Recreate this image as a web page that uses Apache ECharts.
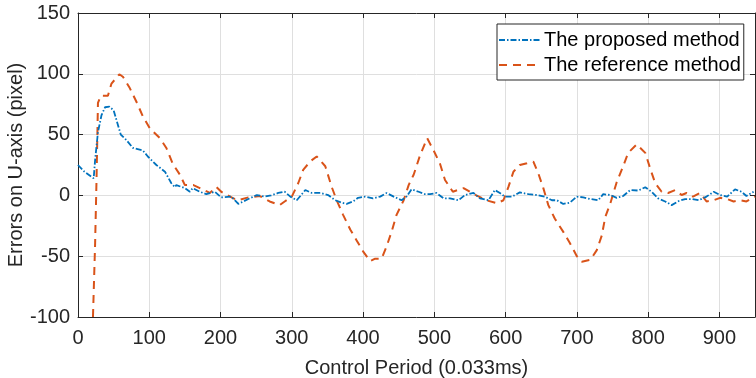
<!DOCTYPE html>
<html>
<head>
<meta charset="utf-8">
<script src="https://cdn.jsdelivr.net/npm/echarts@6/dist/echarts.min.js"></script>
<style>
  html, body { margin: 0; padding: 0; background: #fff; }
  #chart { width: 756px; height: 378px; }
</style>
</head>
<body>
<div id="chart"></div>
<script>
// x ticks 0..900 every 100, y ticks -100..150 every 50
var xTicks = [0, 100, 200, 300, 400, 500, 600, 700, 800, 900];
var yTicks = [-100, -50, 0, 50, 100, 150];

// The proposed method (blue, dash-dot)
var blueX = [0, 9, 22, 24, 28, 33, 38, 44, 50, 54, 60, 68, 77, 91, 98, 110, 122, 131, 136, 138, 150, 157, 161, 171, 180, 192, 201, 215, 225, 239, 251, 262, 271, 281, 290, 298, 307, 319, 328, 340, 351, 361, 370, 377, 386, 393, 403, 414, 424, 433, 443, 454, 461, 468, 478, 487, 494, 503, 513, 522, 534, 543, 555, 564, 576, 585, 592, 599, 609, 620, 632, 644, 655, 665, 672, 681, 690, 700, 709, 719, 730, 737, 747, 756, 765, 775, 786, 796, 805, 814, 824, 833, 843, 852, 862, 871, 882, 892, 901, 911, 922, 931, 938, 948];
var blueY = [25, 19.5, 14, 29, 52, 66, 72.5, 73, 70, 62, 50, 45.5, 39, 37, 32, 25, 19.5, 10, 6.7, 8.5, 6, 3, 6, 3, 1, 3, -1.6, -1, -7, -3, 0.3, -1, 0, 2, 3, -1, -4, 4.4, 2, 2, 0.3, -4, -6, -7, -5, -2, -1, -2.4, -1, 2, -1, -4, -1, 5, 3, 1, 1, 2, -2.4, -2.4, -4, 0.3, 2, -2.4, -4, 4.4, 2, -1, -1, 2.5, 1, 0.3, -1, -4, -4, -7, -6, -1, -1.6, -3, -4, 1, 0.3, -2, -0.5, 4.4, 4, 6.7, 3, -2.4, -5, -8, -4.6, -3, -3, -4, -1, 3, 0.3, -1, 5, 3, -0.5, 3];

// The reference method (orange, dashed)
var redX = [21, 24, 26, 28, 32, 42, 47, 58, 63, 72, 82, 91, 101, 115, 124, 133, 143, 150, 162, 171, 185, 194, 201, 218, 225, 239, 255, 269, 283, 290, 300, 309, 316, 326, 335, 347, 356, 363, 372, 382, 391, 400, 410, 417, 426, 433, 440, 447, 457, 464, 471, 480, 490, 499, 508, 515, 526, 541, 550, 559, 573, 588, 597, 604, 611, 620, 630, 639, 646, 653, 660, 669, 681, 690, 700, 707, 719, 728, 735, 740, 747, 756, 765, 772, 784, 796, 803, 810, 819, 828, 838, 847, 854, 863, 873, 882, 892, 901, 911, 920, 929, 938, 950];
var redY = [-100, -40, 13, 76, 82, 82, 92, 99.6, 97.6, 89, 77, 65, 55, 47, 39, 26, 17, 8.5, 8.5, 6, 2, 7, 3, -2.4, -4, -1.6, -0.5, -5, -8, -5, -1, 10, 21, 28, 32, 24, 7, -4, -16, -28, -37, -46, -54, -52, -52, -42, -30, -16, -4, 8.5, 17, 33, 47, 37, 26, 12.7, 3, 6, 3, 0, -4, -6.5, -4, 7, 19.5, 25, 26.4, 27.7, 18, 6, -8, -19, -30, -39, -50, -54.5, -53, -45, -33, -17.5, -6.5, 11, 24, 35, 42, 35, 22, 10, 3, 2, 4.4, 0.3, 2, -1, 2, -5, -4, -2, -3, -5, -4, -5, -1];

function pairs(xs, ys) {
  return xs.map(function (x, i) { return [x, ys[i]]; });
}

var textColor = '#262626';
var font = 'Liberation Sans, Arial, sans-serif';

var chart = echarts.init(document.getElementById('chart'));
chart.setOption({
  animation: false,
  backgroundColor: '#fff',
  textStyle: { fontFamily: font, color: textColor },
  grid: { left: 78, right: 1, top: 13, bottom: 61, containLabel: false, outerBoundsMode: 'none' },
  legend: {
    orient: 'vertical',
    left: 497,
    top: 24,
    padding: [6, 3, 5, 1],
    itemGap: 5,
    itemWidth: 41,
    itemHeight: 20,
    backgroundColor: '#fff',
    borderColor: textColor,
    borderWidth: 1,
    itemStyle: { opacity: 0 },
    textStyle: { fontFamily: font, fontSize: 20, color: '#000', padding: [0, 0, 0, -1] },
    data: ['The proposed method', 'The reference method']
  },
  xAxis: [{
    type: 'value',
    min: 0, max: 950, interval: 100,
    name: 'Control Period (0.033ms)',
    nameLocation: 'middle',
    nameGap: 41,
    nameMoveOverlap: false,
    nameTextStyle: { fontSize: 20, color: textColor, fontFamily: font },
    axisLine: { onZero: false, lineStyle: { color: textColor, width: 1 } },
    axisTick: { inside: true, length: 5, lineStyle: { color: textColor } },
    axisLabel: {
      fontSize: 20, color: textColor, margin: 11, showMaxLabel: false,
      formatter: function (v) { return xTicks.indexOf(v) >= 0 ? String(v) : ''; }
    },
    splitLine: { show: true, lineStyle: { color: '#dfdfdf', width: 1 } }
  }, {
    type: 'value', position: 'top',
    min: 0, max: 950, interval: 100,
    axisLine: { onZero: false, lineStyle: { color: textColor, width: 1 } },
    axisTick: { inside: true, length: 5, lineStyle: { color: textColor } },
    axisLabel: { show: false },
    splitLine: { show: false }
  }],
  yAxis: [{
    type: 'value',
    min: -100, max: 150, interval: 50,
    name: 'Errors on U-axis (pixel)',
    nameLocation: 'middle',
    nameGap: 52,
    nameMoveOverlap: false,
    nameTextStyle: { fontSize: 20, color: textColor, fontFamily: font },
    axisLine: { show: true, onZero: false, lineStyle: { color: textColor, width: 1 } },
    axisTick: { show: true, inside: true, length: 5, lineStyle: { color: textColor } },
    axisLabel: {
      fontSize: 20, color: textColor, margin: 8,
      formatter: function (v) { return yTicks.indexOf(v) >= 0 ? String(v) : ''; }
    },
    splitLine: { show: true, lineStyle: { color: '#dfdfdf', width: 1 } }
  }, {
    type: 'value', position: 'right',
    min: -100, max: 150, interval: 50,
    axisLine: { show: true, onZero: false, lineStyle: { color: textColor, width: 1 } },
    axisTick: { show: true, inside: true, length: 5, lineStyle: { color: textColor } },
    axisLabel: { show: false },
    splitLine: { show: false }
  }],
  series: [{
    name: 'The proposed method',
    type: 'line',
    data: pairs(blueX, blueY),
    showSymbol: false,
    symbol: 'none',
    clip: true,
    color: '#0072BD',
    lineStyle: { color: '#0072BD', width: 1.8, type: [6, 2, 1.5, 2] },
    z: 3
  }, {
    name: 'The reference method',
    type: 'line',
    data: pairs(redX, redY),
    showSymbol: false,
    symbol: 'none',
    clip: true,
    color: '#D95319',
    lineStyle: { color: '#D95319', width: 2, type: [8, 6] },
    z: 2
  }]
});
</script>
</body>
</html>
